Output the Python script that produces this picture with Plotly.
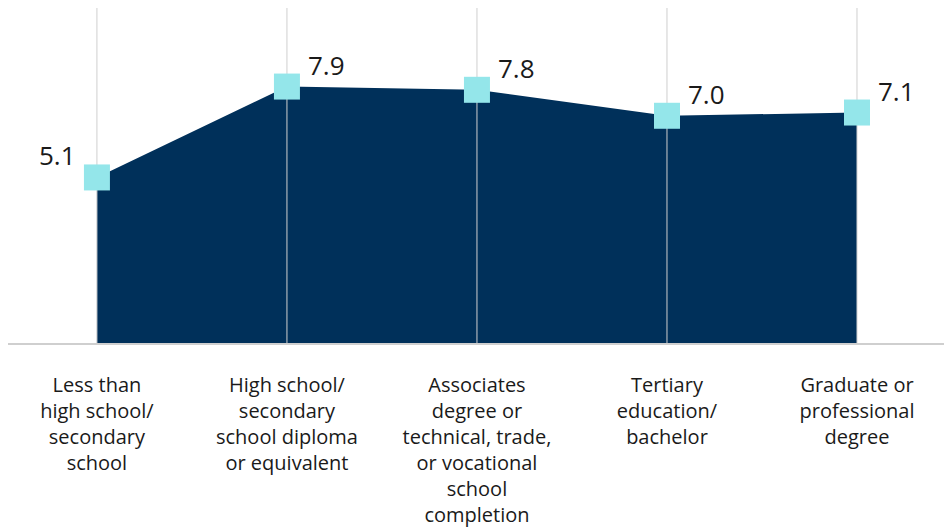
import plotly.graph_objects as go

categories = [
    "Less than<br>high school/<br>secondary<br>school",
    "High school/<br>secondary<br>school diploma<br>or equivalent",
    "Associates<br>degree or<br>technical, trade,<br>or vocational<br>school<br>completion",
    "Tertiary<br>education/<br>bachelor",
    "Graduate or<br>professional<br>degree",
]
values = [5.1, 7.9, 7.8, 7.0, 7.1]
labels = ["5.1", "7.9", "7.8", "7.0", "7.1"]

NAVY = "#00305A"
CYAN = "#94E6EA"
GRID = "#CFCFCF"
Y_TOP = 10.32

xs = list(range(len(categories)))

fig = go.Figure()

# area
fig.add_trace(go.Scatter(
    x=xs, y=values, mode="lines", line=dict(width=0, color=NAVY),
    fill="tozeroy", fillcolor=NAVY, hoverinfo="skip", showlegend=False,
))

# vertical grid lines drawn over the fill
gx, gy = [], []
for x in xs:
    gx += [x, x, None]
    gy += [0, Y_TOP, None]
fig.add_trace(go.Scatter(
    x=gx, y=gy, mode="lines", line=dict(width=1, color=GRID),
    hoverinfo="skip", showlegend=False,
))

# markers
fig.add_trace(go.Scatter(
    x=xs, y=values, mode="markers",
    marker=dict(symbol="square", size=26, color=CYAN, line=dict(width=0)),
    showlegend=False,
))

for i, (v, t) in enumerate(zip(values, labels)):
    left = i == 0
    fig.add_annotation(
        x=i, y=v, text=t, showarrow=False,
        xanchor="right" if left else "left", yanchor="middle",
        xshift=-19 if left else 19, yshift=22,
        font=dict(family="Open Sans", size=26, color="#1a1a1a"),
    )

fig.update_layout(
    width=944, height=519,
    margin=dict(l=0, r=0, t=0, b=184),
    paper_bgcolor="white", plot_bgcolor="white",
    font=dict(family="Open Sans", size=20, color="#1a1a1a"),
    xaxis=dict(
        range=[-0.468, 4.5], tickvals=xs, ticktext=categories,
        showgrid=False, zeroline=False, showline=True, linecolor=GRID, linewidth=1.5,
        ticks="", ticklabelstandoff=23, fixedrange=True,
        tickfont=dict(family="Open Sans", size=20, color="#1a1a1a"),
    ),
    yaxis=dict(
        range=[0, Y_TOP], showgrid=False, zeroline=False, showline=False,
        showticklabels=False, ticks="", fixedrange=True,
    ),
)

fig.write_html("out.html")
